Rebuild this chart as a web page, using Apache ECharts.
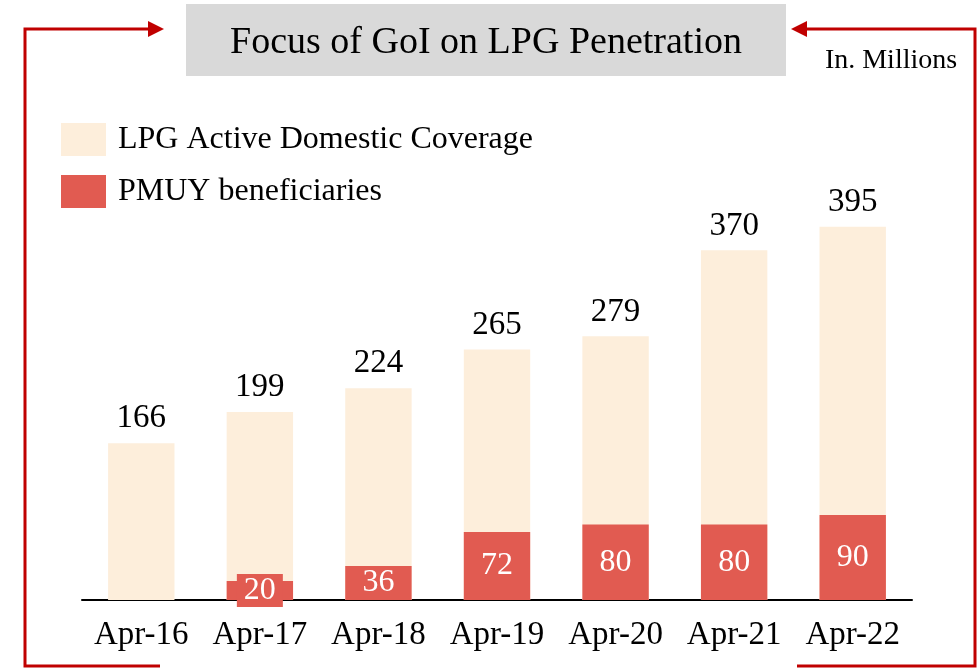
<!DOCTYPE html>
<html lang="en">
<head>
    <meta charset="UTF-8">
    <title>Focus of GoI on LPG Penetration</title>
    <script src="https://cdn.jsdelivr.net/npm/echarts@6/dist/echarts.min.js"></script>
</head>
<body style="margin:0;">
<div id="main" style="width: 978px;height:668px;"></div>
<script>
    var categories = ['Apr-16', 'Apr-17', 'Apr-18', 'Apr-19', 'Apr-20', 'Apr-21', 'Apr-22'];
    var lpgCoverage = [166, 199, 224, 265, 279, 370, 395];
    var pmuyData = [null, 20, 36, 72, 80, 80, 90];

    var serif = 'Liberation Serif';
    var red = '#c00000';
    var pmuyColor = '#e15b51';

    var myChart = echarts.init(document.getElementById('main'));

    // small values get a label box wider than the bar
    var pmuySeriesData = pmuyData.map(function (v) {
        if (v !== null && v < 30) {
            return {
                value: v,
                label: {backgroundColor: pmuyColor, padding: [1, 7, 0, 7]}
            };
        }
        return v;
    });

    var option = {
        textStyle: {fontFamily: serif},
        animation: false,
        grid: {left: 82, right: 66, top: 222, bottom: 68},
        legend: {
            orient: 'vertical',
            left: 61,
            top: 123,
            padding: 0,
            itemWidth: 45,
            itemHeight: 33,
            itemGap: 19,
            icon: 'rect',
            textStyle: {fontFamily: serif, fontSize: 32, color: '#000', padding: [0, 0, 0, 7]},
            data: ['LPG Active Domestic Coverage', 'PMUY beneficiaries']
        },
        xAxis: {
            type: 'category',
            data: categories,
            axisLine: {lineStyle: {color: '#000', width: 2}},
            axisTick: {show: false},
            axisLabel: {interval: 0, fontFamily: serif, fontSize: 33, color: '#000', margin: 19}
        },
        yAxis: {
            type: 'value',
            min: 0,
            max: 400,
            show: false,
            splitLine: {show: false}
        },
        series: [
            {
                name: 'LPG Active Domestic Coverage',
                type: 'bar',
                barWidth: '56%',
                data: lpgCoverage,
                itemStyle: {color: '#fdeedb'},
                label: {
                    show: true,
                    position: 'top',
                    distance: 8,
                    fontFamily: serif,
                    fontSize: 33,
                    color: '#000'
                }
            },
            {
                name: 'PMUY beneficiaries',
                type: 'bar',
                barWidth: '56%',
                barGap: '-100%',
                data: pmuySeriesData,
                itemStyle: {color: pmuyColor},
                label: {
                    show: true,
                    position: 'inside',
                    fontFamily: serif,
                    fontSize: 32,
                    color: '#fff'
                }
            }
        ],
        graphic: [
            {
                type: 'rect',
                shape: {x: 186, y: 4, width: 600, height: 72},
                style: {fill: '#d9d9d9'}
            },
            {
                type: 'text',
                x: 486, y: 43,
                style: {
                    text: 'Focus of GoI on LPG Penetration',
                    font: '38px "Liberation Serif"',
                    fill: '#000',
                    textAlign: 'center',
                    textVerticalAlign: 'middle'
                }
            },
            {
                type: 'text',
                x: 891, y: 61,
                style: {
                    text: 'In. Millions',
                    font: '28px "Liberation Serif"',
                    fill: '#000',
                    textAlign: 'center',
                    textVerticalAlign: 'middle'
                }
            },
            // left bracket
            {
                type: 'polyline',
                shape: {points: [[150, 29], [25, 29], [25, 666], [160, 666]]},
                style: {stroke: red, lineWidth: 3, fill: null}
            },
            {
                type: 'polygon',
                shape: {points: [[148, 21], [164, 29], [148, 37]]},
                style: {fill: red}
            },
            // right bracket
            {
                type: 'polyline',
                shape: {points: [[805, 29], [975, 29], [975, 666], [797, 666]]},
                style: {stroke: red, lineWidth: 3, fill: null}
            },
            {
                type: 'polygon',
                shape: {points: [[807, 21], [791, 29], [807, 37]]},
                style: {fill: red}
            }
        ]
    };

    myChart.setOption(option);
</script>
</body>
</html>
